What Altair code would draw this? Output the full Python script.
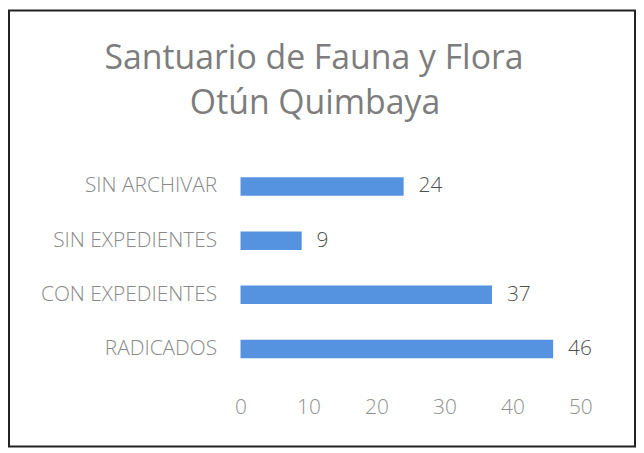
import altair as alt
import pandas as pd

categories = ["SIN ARCHIVAR", "SIN EXPEDIENTES", "CON EXPEDIENTES", "RADICADOS"]
values = [24, 9, 37, 46]
x_ticks = [0, 10, 20, 30, 40, 50]
title_lines = ["Santuario de Fauna y Flora", "Otún Quimbaya"]

df = pd.DataFrame({"categoria": categories, "valor": values})

FONT = "Open Sans"

base = alt.Chart(df).encode(
    y=alt.Y(
        "categoria:N",
        sort=categories,
        title=None,
        scale=alt.Scale(paddingInner=0.66, paddingOuter=0.33),
        axis=alt.Axis(
            domain=False, ticks=False, labelFontSize=21, labelColor="#8a8a8a",
            labelFont=FONT, labelPadding=24, labelFontWeight=300,
        ),
    )
)

bars = base.mark_bar(color="#5592E0").encode(
    x=alt.X(
        "valor:Q",
        title=None,
        scale=alt.Scale(domain=[0, 50]),
        axis=alt.Axis(
            values=x_ticks, grid=False, domain=False, ticks=False,
            labelFontSize=21, labelColor="#909090", labelFont=FONT,
            labelPadding=21, labelFontWeight=300, labelFlush=False,
        ),
    )
)

labels = base.mark_text(
    align="left", baseline="middle", dx=15, fontSize=21, color="#505050",
    font=FONT, fontWeight=300,
).encode(x="valor:Q", text="valor:Q")

frame = alt.Chart(alt.Data(values=[{"a": 1}])).mark_rect(
    fillOpacity=0, stroke="#222222", strokeWidth=2
).encode(
    x=alt.value(-233), x2=alt.value(397), y=alt.value(-150), y2=alt.value(289)
)

title1 = alt.Chart(alt.Data(values=[{"a": 1}])).mark_text(
    align="center", baseline="alphabetic", fontSize=34, font=FONT, color="#7d7d7d"
).encode(x=alt.value(74), y=alt.value(-91), text=alt.value(title_lines[0]))

title2 = alt.Chart(alt.Data(values=[{"a": 1}])).mark_text(
    align="center", baseline="alphabetic", fontSize=34, font=FONT, color="#7d7d7d"
).encode(x=alt.value(75), y=alt.value(-46), text=alt.value(title_lines[1]))

chart = alt.layer(frame, title1, title2, bars, labels).properties(
    width=342,
    height=218,
    padding=0,
).configure(background="white").configure_view(strokeWidth=0, stroke="transparent")

chart.save("out.html", embed_options={"renderer": "svg", "actions": False})
